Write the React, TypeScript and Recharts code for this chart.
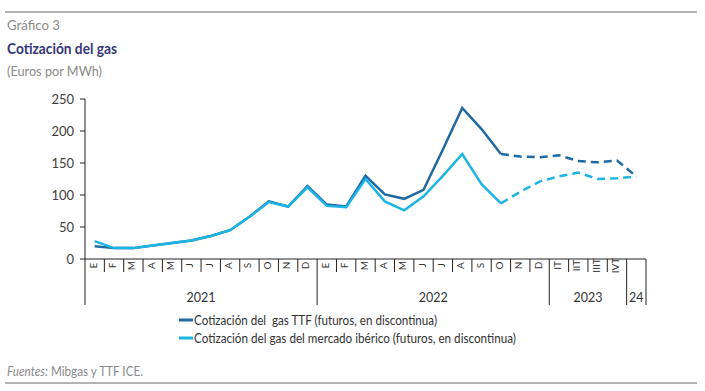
import React from "react";
import { LineChart, Line, XAxis, YAxis } from "recharts";

// Periods shown on the x axis (months 2021-2022, quarters 2023, 2024)
const months = ["E", "F", "M", "A", "M", "J", "J", "A", "S", "O", "N", "D"];
const quarters = ["IT", "IIT", "IIIT", "IVT"];
const periodLabels = [...months, ...months, ...quarters, ""];
const yearGroups = [
  { label: "2021", count: 12 },
  { label: "2022", count: 12 },
  { label: "2023", count: 4 },
  { label: "24", count: 1 },
];

// Euros por MWh, observed up to Oct 2022, futures from Oct 2022 on
const ttfSpot = [20, 17, 17, 21, 25, 29, 36, 45, 66, 90, 82, 114, 85, 82, 130, 101, 94, 108, 171, 236, 203, 164];
const ttfFutures = [164, 160, 159, 162, 153, 151, 154, 129];
const iberSpot = [28, 17, 17, 21, 25, 29, 36, 45, 66, 89, 82, 112, 83, 81, 125, 90, 76, 98, 130, 164, 117, 87];
const iberFutures = [87, 105, 121, 129, 135, 125, 126, 129];

const yTicks = [0, 50, 100, 150, 200, 250];

const futStart = ttfSpot.length - 1;
const data = periodLabels.map((label, i) => ({
  key: `p${i}`,
  label,
  ttf: i < ttfSpot.length ? ttfSpot[i] : null,
  ttfF: i >= futStart ? ttfFutures[i - futStart] : null,
  iber: i < iberSpot.length ? iberSpot[i] : null,
  iberF: i >= futStart ? iberFutures[i - futStart] : null,
}));

const W = 705;
const H = 391;
const MARGIN = { top: 99, right: 59, bottom: 86, left: 40 };
const Y_W = 45;
const X_H = 46;
const PLOT_L = MARGIN.left + Y_W;
const PLOT_R = W - MARGIN.right;
const AXIS_Y = H - MARGIN.bottom - X_H;
const BAND = (PLOT_R - PLOT_L) / periodLabels.length;

const DARK = "#1f6aa2";
const LIGHT = "#1cb5e3";
const FONT = "Lato, 'Open Sans', sans-serif";

const groupStart: Record<number, { label: string; count: number }> = {};
let acc = 0;
yearGroups.forEach((g) => {
  groupStart[acc] = g;
  acc += g.count;
});

function PeriodTick(props: any) {
  const { x, payload, index } = props;
  const i = payload?.index ?? index;
  const half = payload?.offset ? payload.offset : BAND / 2;
  const left = x - half;
  const g = groupStart[i];
  const last = i === periodLabels.length - 1;
  return (
    <g>
      <line x1={left} x2={left} y1={AXIS_Y} y2={g ? AXIS_Y + X_H : AXIS_Y + 13} stroke="#222" strokeWidth={1} />
      {last && <line x1={x + half} x2={x + half} y1={AXIS_Y} y2={AXIS_Y + X_H} stroke="#222" strokeWidth={1} />}
      <text
        transform={`translate(${x + 2},${AXIS_Y + 6.5}) rotate(-90)`}
        textAnchor="middle"
        fontSize={10}
        fontFamily={FONT}
        fill="#333"
      >
        {periodLabels[i]}
      </text>
      {g && (
        <text x={left + g.count * half} y={AXIS_Y + 43} textAnchor="middle" fontSize={12.5} fontFamily={FONT} fill="#333">
          {g.label}
        </text>
      )}
    </g>
  );
}

function Overlay() {
  return (
    <svg width={W} height={H} style={{ position: "absolute", left: 0, top: 0, pointerEvents: "none" }}>
      <line x1={5} x2={697} y1={12} y2={12} stroke="#9a9a9a" strokeWidth={1.5} />
      <text x={7} y={30} fontSize={14} fontFamily={FONT} fill="#8a8a8a" textLength={53} lengthAdjust="spacingAndGlyphs">
        Gráfico 3
      </text>
      <text x={7} y={53.5} fontSize={16} fontWeight="bold" fontFamily={FONT} fill="#34377a" textLength={110} lengthAdjust="spacingAndGlyphs">
        Cotización del gas
      </text>
      <text x={7} y={76} fontSize={13} fontFamily={FONT} fill="#8a8a8a" textLength={95} lengthAdjust="spacingAndGlyphs">
        (Euros por MWh)
      </text>

      <line x1={179} x2={193} y1={320} y2={320} stroke={DARK} strokeWidth={3} />
      <text x={194} y={324.5} fontSize={12.5} fontFamily={FONT} fill="#333" textLength={243} lengthAdjust="spacingAndGlyphs" style={{ whiteSpace: "pre" }}>
        Cotización del  gas TTF (futuros, en discontinua)
      </text>
      <line x1={179} x2={193} y1={338} y2={338} stroke={LIGHT} strokeWidth={3} />
      <text x={194} y={342.5} fontSize={12.5} fontFamily={FONT} fill="#333" textLength={322} lengthAdjust="spacingAndGlyphs">
        Cotización del gas del mercado ibérico (futuros, en discontinua)
      </text>

      <text x={7} y={376} fontSize={12.5} fontFamily={FONT} fill="#8a8a8a" textLength={136} lengthAdjust="spacingAndGlyphs">
        <tspan fontStyle="italic">Fuentes:</tspan> Mibgas y TTF ICE.
      </text>
      <line x1={5} x2={697} y1={383} y2={383} stroke="#9a9a9a" strokeWidth={1.5} />
    </svg>
  );
}

export default function App() {
  return (
    <div style={{ position: "absolute", left: 0, top: 0, width: W, height: H, background: "#fff" }}>
      <LineChart width={W} height={H} data={data} margin={MARGIN}>
        <XAxis
          dataKey="key"
          scale="band"
          height={X_H}
          tickLine={false}
          axisLine={{ stroke: "#222" }}
          interval={0}
          tick={<PeriodTick />}
        />
        <YAxis
          width={Y_W}
          domain={[0, 250]}
          ticks={yTicks}
          tickSize={5}
          tickMargin={6}
          axisLine={{ stroke: "#222" }}
          tickLine={{ stroke: "#222" }}
          tick={{ fontSize: 13, fill: "#404040", fontFamily: FONT }}
        />
        <Line dataKey="ttf" stroke={DARK} strokeWidth={2.5} dot={false} isAnimationActive={false} />
        <Line dataKey="iber" stroke={LIGHT} strokeWidth={2.5} dot={false} isAnimationActive={false} />
        <Line dataKey="ttfF" stroke={DARK} strokeWidth={2.5} strokeDasharray="8 5" dot={false} isAnimationActive={false} />
        <Line dataKey="iberF" stroke={LIGHT} strokeWidth={2.5} strokeDasharray="8 5" dot={false} isAnimationActive={false} />
      </LineChart>
      <Overlay />
    </div>
  );
}
